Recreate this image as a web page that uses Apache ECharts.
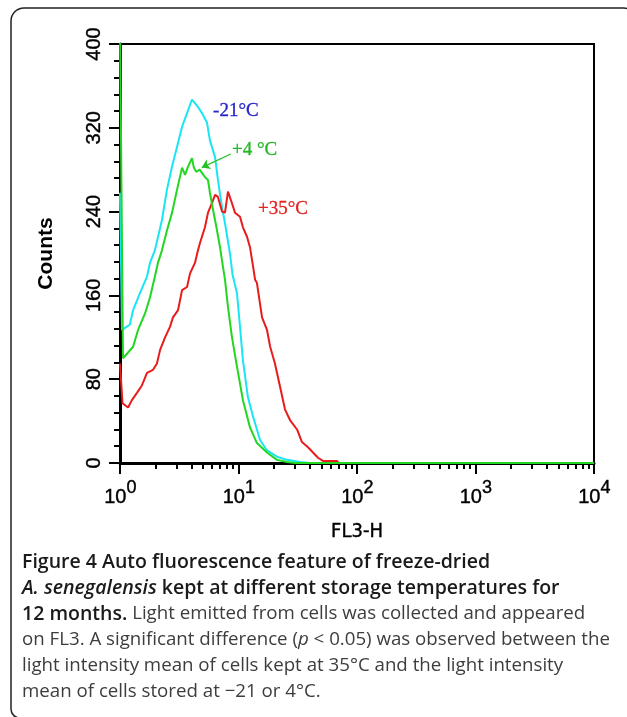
<!DOCTYPE html>
<html>
<head>
<meta charset="utf-8">
<script src="https://cdn.jsdelivr.net/npm/echarts@6/dist/echarts.min.js"></script>
<style>
html,body{margin:0;padding:0;background:#fff;}
#c{width:627px;height:717px;}
</style>
</head>
<body>
<div id="c"></div>
<script>
// ---------------- data ----------------
const xDecades = [1, 10, 100, 1000, 10000];
const xMinorTicks = [2,3,4,5,6,7,8,9, 20,30,40,50,60,70,80,90, 200,300,400,500,600,700,800,900, 2000,3000,4000,5000,6000,7000,8000,9000];
const yMin = 0, yMax = 400, yInterval = 80;

// -21 °C (cyan)
const cyanX = [1, 1.04, 1.10, 1.21, 1.29, 1.47, 1.69, 1.79, 1.97, 2.26, 2.49, 2.75, 3.03, 3.34, 3.68, 4.05, 4.55, 4.92, 5.42, 5.74, 6.34, 6.71, 7.26, 7.69, 8.47, 8.9, 9.71, 10.3, 10.9, 12.0, 13.3, 15.2, 17.4, 21.1, 25.7, 33, 40, 10000];
const cyanY = [258, 127, 129, 132, 146, 162, 178, 191, 203, 232, 261, 283, 302, 321, 334, 347, 340, 334, 325, 308, 292, 270, 244, 229, 200, 180, 162, 130, 98, 63, 44, 22, 12, 6, 3, 1, 0, 0];

// +35 °C (red)
const redX = [1, 1.05, 1.17, 1.26, 1.39, 1.53, 1.69, 1.90, 2.05, 2.18, 2.40, 2.64, 2.80, 3.09, 3.34, 3.68, 3.90, 4.29, 4.55, 4.73, 5.21, 5.53, 5.97, 6.34, 6.71, 7.26, 7.69, 8.15, 8.81, 9.34, 10.3, 10.9, 11.8, 12.5, 13.3, 13.8, 14.3, 15.8, 17.4, 18.5, 20.3, 22.4, 24.7, 27.2, 31.2, 34.3, 38.6, 42.5, 46.9, 51.6, 67.8, 70, 10000];
const redY = [95, 57, 53, 60, 67, 74, 86, 89, 95, 108, 120, 130, 139, 146, 165, 168, 181, 191, 203, 210, 225, 239, 248, 256, 254, 240, 239, 259, 248, 239, 235, 225, 216, 206, 187, 175, 172, 139, 127, 111, 95, 73, 51, 41, 32, 20, 15, 10, 5, 2, 2, 0, 0];

// +4 °C (green)
const greenX = [1, 1.06, 1.29, 1.42, 1.63, 1.79, 1.97, 2.09, 2.26, 2.49, 2.75, 3.03, 3.34, 3.54, 3.75, 4.05, 4.20, 4.40, 4.70, 4.92, 5.21, 5.53, 5.74, 6.09, 6.59, 6.98, 7.40, 7.69, 8.15, 8.81, 9.71, 10.9, 12.5, 14.3, 17.4, 21.1, 25.7, 30, 10000];
const greenY = [420, 100, 111, 127, 143, 158, 178, 191, 203, 222, 239, 261, 282, 275, 283, 291, 282, 278, 280, 277, 273, 270, 258, 242, 222, 206, 187, 175, 149, 120, 92, 60, 34, 19, 10, 3, 1, 0, 0];

const seriesNames = ['-21°C', '+35°C', '+4 °C'];
const seriesColors = ['#19e6f2', '#e81c1c', '#22d622'];
const labelColors = ['#2323cc', '#e62020', '#22b822'];
// label anchor (left-middle) in data coordinates
const labelAnchors = [[6.1, 336], [14.6, 242], [8.8, 299]];
// arrow from "+4 °C" label to green curve
const arrowFrom = [8.6, 295];
const arrowTo = [4.9, 282];

const xAxisName = 'FL3-H';
const yAxisName = 'Counts';

const captionLines = [
  [['b', 'Figure 4 Auto fluorescence feature of freeze-dried']],
  [['bi', 'A. senegalensis'], ['b', ' kept at different storage temperatures for']],
  [['b', '12 months.'], ['r', ' Light emitted from cells was collected and appeared']],
  [['r', 'on FL3. A significant difference ('], ['i', 'p'], ['r', ' < 0.05) was observed between the']],
  [['r', 'light intensity mean of cells kept at 35°C and the light intensity']],
  [['r', 'mean of cells stored at \u221221 or 4°C.']]
];

// ---------------- build ----------------
function pairs(xs, ys) { return xs.map((x, i) => [x, ys[i]]); }
const AXF = '"Liberation Sans", Arial, Helvetica, sans-serif';
const CAPF = '"Open Sans", "Noto Sans", sans-serif';

const chart = echarts.init(document.getElementById('c'));

const option = {
  animation: false,
  backgroundColor: '#fff',
  grid: { left: 120, top: 44, right: 33, bottom: 254, show: true, borderColor: '#000', borderWidth: 2, containLabel: false },
  xAxis: [
    {
      type: 'log', logBase: 10, min: xDecades[0], max: xDecades[xDecades.length - 1],
      position: 'bottom',
      axisLine: { show: true, lineStyle: { color: '#000', width: 3 } },
      axisTick: { show: true, length: 11, lineStyle: { color: '#000', width: 2 } },
      minorTick: { show: false },
      splitLine: { show: false },
      axisLabel: {
        margin: 16, color: '#000',
        formatter: v => '{sp| }{b|10}{s|' + Math.round(Math.log10(v)) + '}',
        rich: {
          sp: { fontSize: 2, lineHeight: 28, fontFamily: AXF, verticalAlign: 'top' },
          b: { fontSize: 20, lineHeight: 20, fontFamily: AXF, color: '#000', verticalAlign: 'bottom', textBorderColor: '#000', textBorderWidth: 0.4 },
          s: { fontSize: 18, lineHeight: 17, fontFamily: AXF, color: '#000', verticalAlign: 'top', textBorderColor: '#000', textBorderWidth: 0.4 }
        }
      },
      name: xAxisName, nameLocation: 'middle', nameGap: 59,
      nameTextStyle: { fontSize: 20, color: '#000', fontFamily: '"Liberation Sans Narrow", "DejaVu Sans Condensed", ' + AXF, textBorderColor: '#000', textBorderWidth: 0.4 }
    },
    {
      type: 'log', logBase: 10, min: xDecades[0], max: xDecades[xDecades.length - 1],
      position: 'bottom',
      axisLine: { show: false },
      axisTick: { show: true, length: 6, customValues: xMinorTicks, lineStyle: { color: '#000', width: 2 } },
      axisLabel: { show: false },
      splitLine: { show: false }
    }
  ],
  yAxis: {
    type: 'value', min: yMin, max: yMax, interval: yInterval,
    axisLine: { show: true, lineStyle: { color: '#000', width: 3 } },
    axisTick: { show: true, length: 11, lineStyle: { color: '#000', width: 2 } },
    minorTick: { show: true, splitNumber: 5, length: 6, lineStyle: { color: '#000', width: 2 } },
    splitLine: { show: false },
    axisLabel: { rotate: 90, margin: 16, fontSize: 20, color: '#000', fontFamily: AXF, textBorderColor: '#000', textBorderWidth: 0.4 },
    name: yAxisName, nameLocation: 'middle', nameGap: 63, nameRotate: 90,
    nameTextStyle: { fontSize: 21, color: '#000', fontFamily: AXF, fontWeight: 'bold' }
  },
  series: [
    { name: seriesNames[0], type: 'line', data: pairs(cyanX, cyanY), showSymbol: false, symbol: 'none',
      lineStyle: { color: seriesColors[0], width: 2 }, itemStyle: { color: seriesColors[0] } },
    { name: seriesNames[1], type: 'line', data: pairs(redX, redY), showSymbol: false, symbol: 'none',
      lineStyle: { color: seriesColors[1], width: 2 }, itemStyle: { color: seriesColors[1] } },
    { name: seriesNames[2], type: 'line', data: pairs(greenX, greenY), showSymbol: false, symbol: 'none',
      lineStyle: { color: seriesColors[2], width: 2 }, itemStyle: { color: seriesColors[2] },
      markLine: {
        silent: true, animation: false, symbol: ['none', 'arrow'], symbolSize: 8,
        lineStyle: { color: '#22c022', width: 1.2, type: 'solid' },
        label: { show: false },
        data: [[{ coord: arrowFrom }, { coord: arrowTo }]]
      }
    }
  ]
};
chart.setOption(option);

// ---------------- annotations & caption ----------------
const graphics = [];
// outer figure frame (bracket-like rounded box)
graphics.push({ type: 'rect', silent: true, z: 0,
  shape: { x: 11, y: 8, width: 622, height: 710, r: [13, 9, 0, 9] },
  style: { fill: 'none', stroke: '#222', lineWidth: 1.5 } });

labelAnchors.forEach((a, i) => {
  const p = chart.convertToPixel({ seriesIndex: 0 }, a);
  graphics.push({ type: 'text', x: p[0], y: p[1], z: 10, silent: true,
    style: { text: seriesNames[i], fill: labelColors[i], font: '19px "Liberation Serif", "Times New Roman", serif', align: 'left', verticalAlign: 'middle', stroke: labelColors[i], lineWidth: 0.3 } });
});

// caption sizing from measured widths
const ctx = document.createElement('canvas').getContext('2d');
function fontFor(kind, size) {
  const italic = (kind === 'i' || kind === 'bi') ? 'italic ' : '';
  const weight = (kind === 'b' || kind === 'bi') ? '600 ' : '400 ';
  return italic + weight + size + 'px ' + CAPF;
}
function measure(line, sizeB, sizeR) {
  let w = 0;
  line.forEach(([k, t]) => { ctx.font = fontFor(k, (k === 'b' || k === 'bi') ? sizeB : sizeR); w += ctx.measureText(t).width; });
  return w;
}
const sizeR = 100 * 588 / measure(captionLines[3], 100, 100);
const sizeB = 100 * (445 + 561) / (measure(captionLines[0], 100, 100) + measure(captionLines[1], 100, 100));
const capY = [562, 588, 614, 640, 666, 692];
const rich = {
  b: { fontFamily: CAPF, fontWeight: 600, fontSize: sizeB, fill: '#1a1a1a' },
  bi: { fontFamily: CAPF, fontWeight: 600, fontStyle: 'italic', fontSize: sizeB, fill: '#1a1a1a' },
  r: { fontFamily: CAPF, fontWeight: 400, fontSize: sizeR, fill: '#3d3d3d' },
  i: { fontFamily: CAPF, fontWeight: 400, fontStyle: 'italic', fontSize: sizeR, fill: '#3d3d3d' }
};
captionLines.forEach((line, i) => {
  const txt = line.map(([k, t]) => '{' + k + '|' + t + '}').join('');
  graphics.push({ type: 'text', x: 22, y: capY[i], silent: true,
    style: { text: txt, rich: rich, align: 'left', verticalAlign: 'middle' } });
});

chart.setOption({ graphic: { elements: graphics } });
</script>
</body>
</html>
